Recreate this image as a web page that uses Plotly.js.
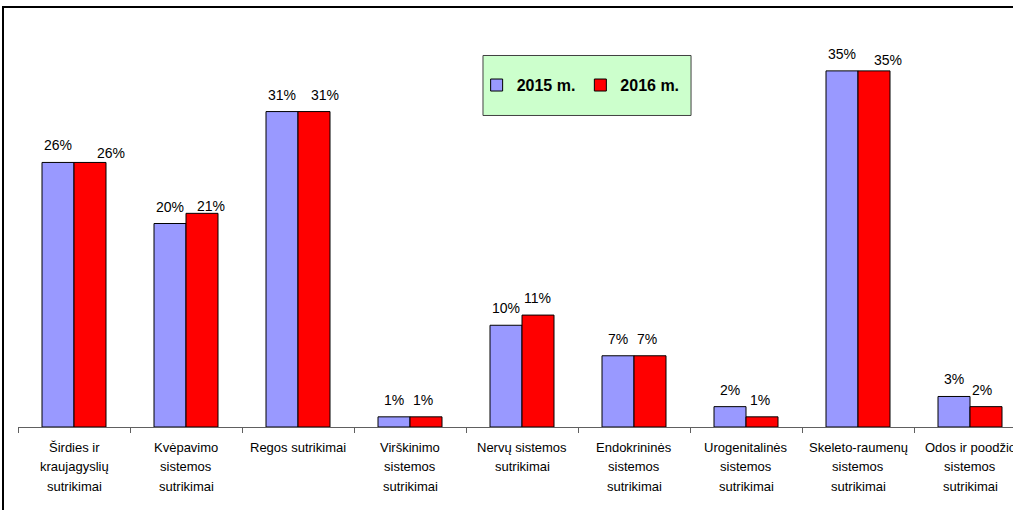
<!DOCTYPE html>
<html>
<head>
<meta charset="utf-8">
<script src="https://cdn.plot.ly/plotly-3.0.1.min.js"></script>
<style>
  html, body { margin: 0; padding: 0; background: #fff; overflow: hidden; width: 1013px; height: 510px; }
  #chart { position: absolute; left: 0; top: 0; width: 1040px; height: 510px; }
  #frame { position: absolute; left: 2px; top: 6px; width: 1100px; height: 600px; border: 2px solid #000; pointer-events: none; }
</style>
</head>
<body>
<div id="chart"></div>
<div id="frame"></div>
<script>
// ---- data ----
const categoryLines = [
  ["Širdies ir", "kraujagyslių", "sutrikimai"],
  ["Kvėpavimo", "sistemos", "sutrikimai"],
  ["Regos sutrikimai"],
  ["Virškinimo", "sistemos", "sutrikimai"],
  ["Nervų sistemos", "sutrikimai"],
  ["Endokrininės", "sistemos", "sutrikimai"],
  ["Urogenitalinės", "sistemos", "sutrikimai"],
  ["Skeleto-raumenų", "sistemos", "sutrikimai"],
  ["Odos ir poodžio", "sistemos", "sutrikimai"]
];
const categories = categoryLines.map(l => l.join(" "));
const series2015Name = "2015 m.";
const series2016Name = "2016 m.";
const values2015 = [26, 20, 31, 1, 10, 7, 2, 35, 3];
const values2016 = [26, 21, 31, 1, 11, 7, 1, 35, 2];

// ---- label placement nudges (px, style only) ----
const nudge2016X = [21, 9, 11, -3, -1, -3, -2, 14, -4];
const nudge2016Y = [-8, -10, 0, 0, 0, 0, 0, -6, 0];

const FONT = "Arial, 'Liberation Sans', sans-serif";
const BLUE = "#9999ff";
const RED = "#ff0000";

const traces = [
  {
    type: "bar", name: series2015Name, x: categories, y: values2015,
    marker: { color: BLUE, line: { color: "#000", width: 1 } },
    hoverinfo: "skip"
  },
  {
    type: "bar", name: series2016Name, x: categories, y: values2016,
    marker: { color: RED, line: { color: "#000", width: 1 } },
    hoverinfo: "skip"
  }
];

const annotations = [];
categories.forEach((c, i) => {
  annotations.push({
    xref: "x", yref: "y", x: c, y: values2015[i], text: values2015[i] + "%",
    showarrow: false, xanchor: "center", yanchor: "middle",
    xshift: -16, yshift: 17,
    font: { family: FONT, size: 14, color: "#000" }
  });
  annotations.push({
    xref: "x", yref: "y", x: c, y: values2016[i], text: values2016[i] + "%",
    showarrow: false, xanchor: "center", yanchor: "middle",
    xshift: 16 + nudge2016X[i], yshift: 17 + nudge2016Y[i],
    font: { family: FONT, size: 14, color: "#000" }
  });
  categoryLines[i].forEach((line, k) => {
    annotations.push({
      xref: "x", yref: "paper", x: c, y: 0, text: line,
      showarrow: false, xanchor: "center", yanchor: "middle",
      yshift: -(20 + 19.5 * k),
      font: { family: FONT, size: 13, color: "#000" }
    });
  });
});

const layout = {
  width: 1040, height: 510,
  margin: { l: 18, r: 14, t: 20, b: 83, pad: 0 },
  paper_bgcolor: "rgba(0,0,0,0)",
  plot_bgcolor: "rgba(0,0,0,0)",
  font: { family: FONT, size: 13, color: "#000" },
  barmode: "group",
  bargap: 0.4286,
  bargroupgap: 0,
  showlegend: true,
  legend: {
    orientation: "h",
    x: 0.455, xanchor: "left",
    y: 0.84, yanchor: "middle",
    bgcolor: "rgba(0,0,0,0)",
    borderwidth: 0,
    font: { family: FONT, size: 16, color: "#000", weight: "bold" },
    traceorder: "normal"
  },
  xaxis: {
    type: "category",
    showticklabels: false,
    showline: true, linecolor: "#606060", linewidth: 1,
    ticks: "outside", tickson: "boundaries", ticklen: 5, tickcolor: "#606060",
    showgrid: false, zeroline: false, fixedrange: true
  },
  yaxis: {
    range: [0, 40],
    visible: false,
    showgrid: false, zeroline: false, fixedrange: true
  },
  shapes: [
    {
      type: "rect", xref: "paper", yref: "paper", layer: "below",
      x0: 0.4613, x1: 0.6677, y0: 0.7654, y1: 0.9128,
      fillcolor: "#ccffcc", line: { color: "#404040", width: 1 }
    }
  ],
  annotations: annotations
};

Plotly.newPlot("chart", traces, layout, { displayModeBar: false, staticPlot: true, responsive: false });
</script>
</body>
</html>
